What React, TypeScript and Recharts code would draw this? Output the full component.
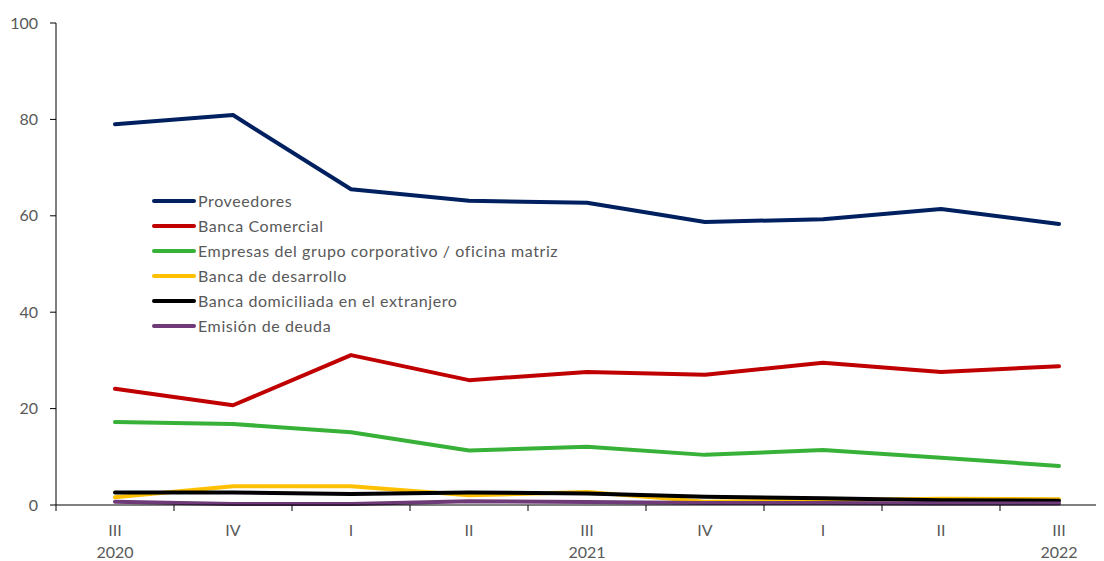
import React from 'react';
import { LineChart, Line, XAxis, YAxis } from 'recharts';

const quarters = ['III', 'IV', 'I', 'II', 'III', 'IV', 'I', 'II', 'III'];
const years = ['2020', '', '', '', '2021', '', '', '', '2022'];

const proveedores = [79.0, 80.9, 65.5, 63.1, 62.7, 58.7, 59.3, 61.4, 58.3];
const bancaComercial = [24.1, 20.7, 31.1, 25.9, 27.6, 27.0, 29.5, 27.6, 28.8];
const empresasGrupo = [17.2, 16.8, 15.1, 11.3, 12.1, 10.4, 11.4, 9.8, 8.1];
const bancaDesarrollo = [1.6, 3.9, 3.9, 2.0, 2.7, 0.7, 1.0, 1.3, 1.2];
const bancaExtranjero = [2.6, 2.6, 2.3, 2.6, 2.4, 1.7, 1.4, 1.0, 0.9];
const emisionDeuda = [0.7, 0.2, 0.2, 0.8, 0.6, 0.4, 0.4, 0.3, 0.3];

const yTicks = [0, 20, 40, 60, 80, 100];

const series = [
  { key: 'proveedores', name: 'Proveedores', color: '#002060', values: proveedores },
  { key: 'comercial', name: 'Banca Comercial', color: '#C00000', values: bancaComercial },
  { key: 'empresas', name: 'Empresas del grupo corporativo / oficina matriz', color: '#38B138', values: empresasGrupo },
  { key: 'desarrollo', name: 'Banca de desarrollo', color: '#FFC000', values: bancaDesarrollo },
  { key: 'extranjero', name: 'Banca domiciliada en el extranjero', color: '#000000', values: bancaExtranjero },
  { key: 'deuda', name: 'Emisión de deuda', color: '#6E3A78', values: emisionDeuda },
];

const data = quarters.map((q, i) => {
  const row: Record<string, string | number> = { id: `${i}`, quarter: q, year: years[i] };
  series.forEach(s => {
    row[s.key] = s.values[i];
  });
  return row;
});

const CHART_W = 1120;
const CHART_H = 553;
const MARGIN = { top: 15, right: 10, bottom: 0, left: 0 };
const Y_WIDTH = 48;
const BAND = (CHART_W - MARGIN.left - MARGIN.right - Y_WIDTH) / quarters.length;

const FONT = 'Lato, "Open Sans", sans-serif';
const TEXT = '#595959';

const QuarterTick = (props: any) => {
  const { x, y, payload, index } = props;
  const i = index ?? payload.index;
  return (
    <g>
      <line x1={x - BAND / 2} y1={y} x2={x - BAND / 2} y2={y + 6} stroke="#000" strokeWidth={1} />
      {i === quarters.length - 1 && (
        <line x1={x + BAND / 2} y1={y} x2={x + BAND / 2} y2={y + 6} stroke="#000" strokeWidth={1} />
      )}
      <text x={x} y={y + 31} textAnchor="middle" fill={TEXT} fontSize={16} fontFamily={FONT}>
        {quarters[i]}
      </text>
      {years[i] && (
        <text x={x} y={y + 53} textAnchor="middle" fill={TEXT} fontSize={16} fontFamily={FONT}>
          {years[i]}
        </text>
      )}
    </g>
  );
};

// legend drawn as an overlay so it doesn't eat plot height
const LegendBox = () => (
  <div
    style={{
      position: 'absolute',
      left: 144,
      top: 180,
      fontFamily: FONT,
      fontSize: 16,
      color: TEXT,
      pointerEvents: 'none',
    }}
  >
    {series.map(s => (
      <div key={s.key} style={{ display: 'flex', alignItems: 'center', height: 25 }}>
        <svg width={46} height={8} style={{ display: 'block' }}>
          <line x1={2} y1={4} x2={42} y2={4} stroke={s.color} strokeWidth={4} strokeLinecap="round" />
        </svg>
        <span style={{ marginLeft: 0, letterSpacing: 0.6, whiteSpace: 'nowrap' }}>{s.name}</span>
      </div>
    ))}
  </div>
);

export default function App() {
  return (
    <div style={{ position: 'relative', width: 1096, height: CHART_H, overflow: 'hidden' }}>
      <LineChart width={CHART_W} height={CHART_H} data={data} margin={MARGIN}>
        <XAxis
          dataKey="id"
          scale="band"
          interval={0}
          height={56}
          tickSize={0}
          tickMargin={0}
          tickLine={false}
          axisLine={{ stroke: '#000', strokeWidth: 1 }}
          tick={<QuarterTick />}
        />
        <YAxis
          width={Y_WIDTH}
          domain={[0, 100]}
          ticks={yTicks}
          interval={0}
          tickSize={6}
          tickMargin={12}
          axisLine={{ stroke: '#000', strokeWidth: 1 }}
          tickLine={{ stroke: '#000', strokeWidth: 1 }}
          tick={{ fill: TEXT, fontSize: 16, fontFamily: FONT }}
        />
        {series.map(s => (
          <Line
            key={s.key}
            dataKey={s.key}
            name={s.name}
            stroke={s.color}
            strokeWidth={4}
            dot={false}
            activeDot={false}
            strokeLinejoin="round"
            strokeLinecap="round"
            isAnimationActive={false}
          />
        ))}
      </LineChart>
      <LegendBox />
    </div>
  );
}
